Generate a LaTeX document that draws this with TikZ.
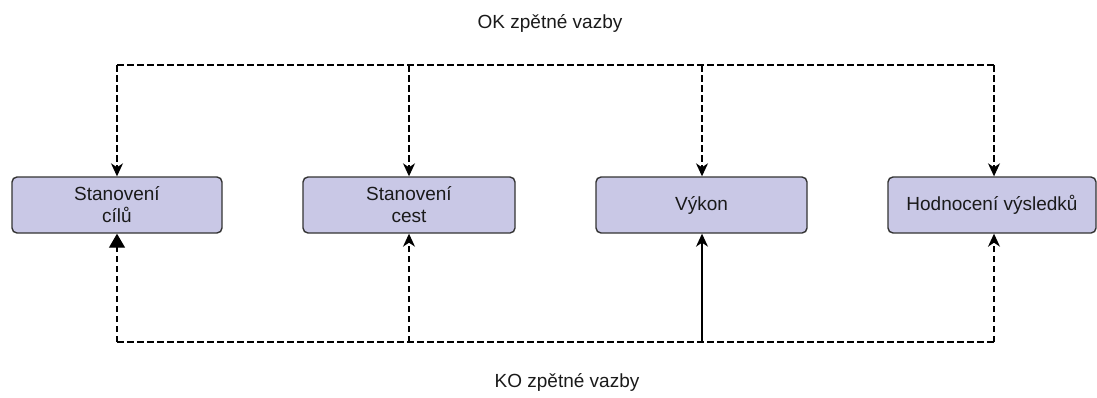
\documentclass[tikz,border=0pt]{standalone}
\usepackage{fontspec}
\setmainfont{Liberation Sans}
\usetikzlibrary{arrows.meta,positioning}
\definecolor{boxfill}{HTML}{C9C8E6}
\definecolor{boxline}{HTML}{333333}
\definecolor{txt}{HTML}{1A1A1A}
\tikzset{
  stagebox/.style={draw=boxline, fill=boxfill, line width=1.4pt, rounded corners=5pt,
    minimum width=210pt, minimum height=56pt, inner sep=0pt, align=center,
    text=txt, font=\fontsize{19}{22}\selectfont},
  caption/.style={text=txt, font=\fontsize{19}{22}\selectfont, inner sep=0pt},
  link/.style={line width=1.3pt, black},
  fb/.style={link, dash pattern=on 6.5pt off 3.5pt},
  tipc/.style={-{Stealth[length=13pt, width=12pt, inset=4pt]}},
  tipb/.style={-{Triangle[length=14pt, width=16pt]}}
}
\begin{document}
\begin{tikzpicture}[x=1pt, y=-1pt]
  \useasboundingbox (0,0) rectangle (1097,397);

  % process stages
  \node[stagebox] (b1) at (117,205) {Stanovení\\cílů};
  \node[stagebox, minimum width=212pt] (b2) at (409,205) {Stanovení\\cest};
  \node[stagebox, minimum width=211pt] (b3) at (701.5,205) {Výkon};
  \node[stagebox, minimum width=208pt] (b4) at (992,205) {Hodnocení výsledků};

  % feedback captions
  \node[caption] (ok) at (550,23) {OK zpětné vazby};
  \node[caption] (ko) at (567,382) {KO zpětné vazby};

  % upper feedback bus
  \coordinate (t1) at (117,65);
  \coordinate (t2) at (409,65);
  \coordinate (t3) at (702,65);
  \coordinate (t4) at (994,65);
  \draw[fb] (t1) -- (t4);
  \draw[fb, tipc] (t1) -- (b1.north);
  \draw[fb, tipc] (t2) -- (b2.north);
  \draw[fb, tipc] (t3) -- (t3 |- b3.north);
  \draw[fb, tipc] (t4) -- (t4 |- b4.north);

  % lower feedback bus
  \coordinate (k1) at (117,342);
  \coordinate (k2) at (409,342);
  \coordinate (k3) at (702,342);
  \coordinate (k4) at (994,342);
  \draw[fb] (k1) -- (k4);
  \draw[fb, tipb] (k1) -- (b1.south);
  \draw[fb, tipc] (k2) -- (b2.south);
  \draw[link, tipc] (k3) -- (k3 |- b3.south);
  \draw[fb, tipc] (k4) -- (k4 |- b4.south);
\end{tikzpicture}
\end{document}
